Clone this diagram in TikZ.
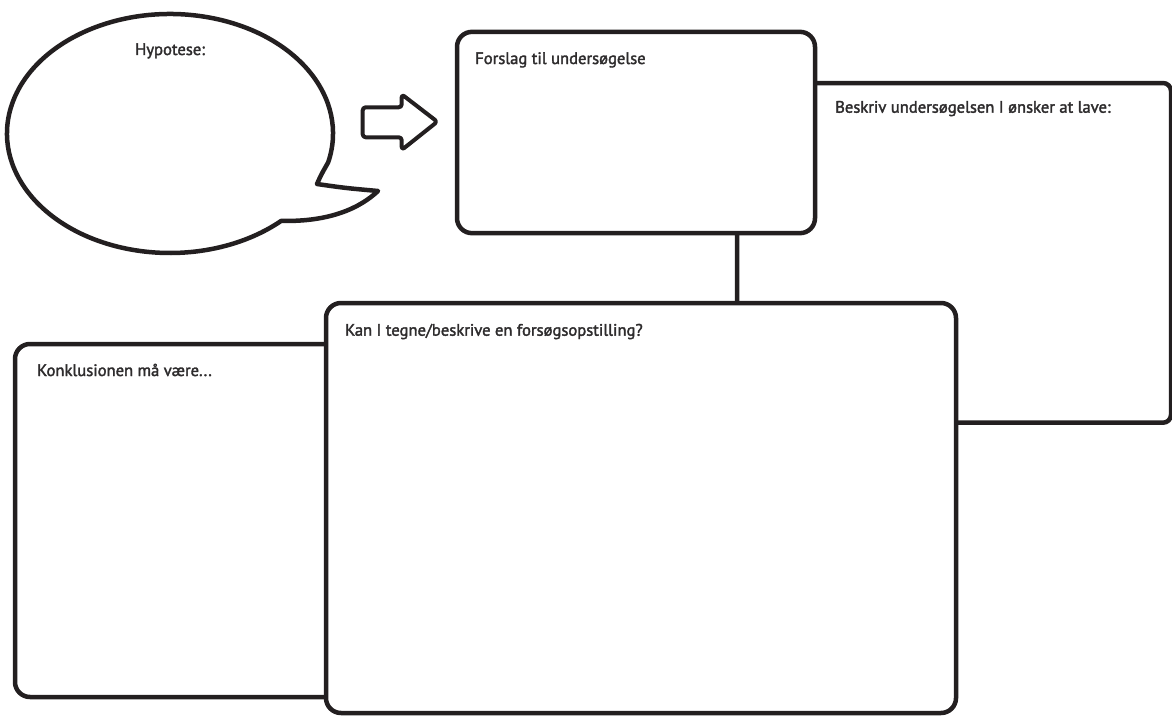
\documentclass[tikz,border=0pt]{standalone}
\usepackage{fontspec}
\setmainfont{PT Sans}[FakeBold=2]
\definecolor{ink}{HTML}{231F20}
\definecolor{txt}{HTML}{2E2C2D}
\begin{document}
\begin{tikzpicture}[x=1pt,y=-1pt,
  panel/.style={draw=ink, line width=4.5pt, fill=white, rounded corners=15pt, inner sep=0pt, outer sep=0pt},
  label/.style={anchor=base west, inner sep=0pt, text=txt, font=\fontsize{16.6}{20}\selectfont},
  outline/.style={draw=ink, line width=4.5pt, line join=round},
  link/.style={draw=ink, line width=4.5pt}]
\useasboundingbox (0,0) rectangle (1172,717);
% speech bubble
\draw[outline, fill=white] (170,133.5) ++(14:163 and 119.5)
  arc[start angle=14, end angle=-313, x radius=163, y radius=119.5]
  .. controls (330,222) and (360,208) .. (378,191)
  .. controls (345,188) .. (317,184)
  .. controls (321,175) .. cycle;
\node[label] (hyp) at (135,55) {Hypotese:};
% block arrow
\draw[draw=ink, line width=4pt, line join=round, rounded corners=3pt]
  (362.7,107.3) -- (401.7,107.3) -- (401.7,94.3) -- (437.3,121.7)
  -- (401.7,150) -- (401.7,137.3) -- (362.7,137.3) -- cycle;
% panels
\node[panel, minimum width=434pt, minimum height=339.7pt, rounded corners=8pt] (beskriv) at (954,252.85) {};
\node[panel, minimum width=358pt, minimum height=201.3pt] (forslag) at (636,132.5) {};
\node[panel, minimum width=385pt, minimum height=353pt] (konkl) at (207.5,520.5) {};
\node[panel, minimum width=630pt, minimum height=410pt] (kan) at (641,508) {};
% connector
\coordinate (cx) at (737,0);
\draw[link] (forslag.south -| cx) -- (kan.north -| cx);
% texts
\node[label] (t1) at (475,64) {Forslag til undersøgelse};
\node[label] (t2) at (835,112.7) {Beskriv undersøgelsen I ønsker at lave:};
\node[label] (t3) at (345,335.7) {Kan I tegne/beskrive en forsøgsopstilling?};
\node[label] (t4) at (37,376) {Konklusionen må være...};
\end{tikzpicture}
\end{document}
